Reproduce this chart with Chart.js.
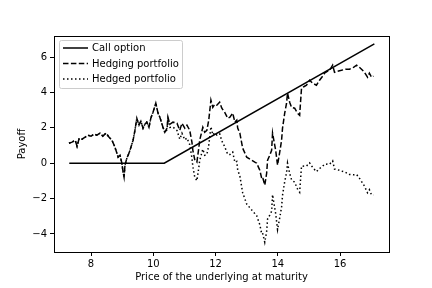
<!DOCTYPE html>
<html><head><meta charset="utf-8">
<script src="https://cdn.jsdelivr.net/npm/chart.js@4.4.0/dist/chart.umd.min.js"></script>
<style>html,body{margin:0;padding:0;background:#fff;}canvas{display:block;}</style>
</head><body>
<canvas id="c" width="432" height="288"></canvas>
<script>
const callX = [7.3, 10.35, 17.1];
const callY = [0, 0, 6.75];
const priceX = [7.29,7.39,7.49,7.55,7.62,7.71,7.81,7.90,8.00,8.10,8.19,8.29,8.38,8.48,8.58,8.67,8.74,8.80,8.87,8.93,8.99,9.03,9.06,9.09,9.15,9.22,9.28,9.35,9.41,9.47,9.54,9.60,9.67,9.73,9.79,9.86,9.92,9.99,10.05,10.08,10.15,10.21,10.31,10.37,10.44,10.47,10.53,10.63,10.76,10.85,10.92,11.01,11.08,11.17,11.24,11.27,11.33,11.40,11.46,11.49,11.59,11.65,11.72,11.78,11.85,11.91,11.97,12.04,12.13,12.20,12.29,12.39,12.46,12.55,12.62,12.68,12.71,12.78,12.87,13.00,13.16,13.26,13.32,13.42,13.48,13.51,13.58,13.64,13.67,13.74,13.80,13.83,13.87,13.93,13.99,14.06,14.12,14.15,14.22,14.28,14.31,14.38,14.44,14.54,14.63,14.70,14.76,14.86,14.92,15.02,15.12,15.24,15.34,15.44,15.50,15.60,15.66,15.76,15.82,15.92,16.04,16.17,16.30,16.43,16.53,16.62,16.72,16.78,16.88,16.94,17.01,17.07];
const hedgingY = [1.13,1.19,1.30,0.96,1.41,1.36,1.47,1.58,1.53,1.64,1.58,1.70,1.53,1.70,1.47,1.30,1.02,0.73,0.34,0.45,0,-0.51,-0.79,-0.11,0.28,0.57,0.90,1.30,1.86,2.54,2.15,2.37,1.98,2.20,2.32,2.03,2.54,2.88,3.22,3.39,2.83,2.60,2.03,1.75,1.98,2.60,2.20,2.32,2.26,1.86,2.26,1.98,2.15,1.86,1.19,0.73,0.20,0.06,0.85,1.30,2.03,1.75,1.86,2.43,3.56,3.16,3.33,3.28,3.45,3.11,2.88,2.54,2.60,2.83,2.32,2.43,1.98,1.70,0.85,0.34,0.17,0.06,0,-0.40,-0.85,-0.79,-1.24,-0.57,0.17,0.45,0.73,1.70,1.30,0.73,-0.11,0.62,1.30,1.98,2.83,3.39,3.96,3.45,3.16,3.11,2.83,2.71,4.24,4.35,4.41,4.69,4.52,4.41,4.69,4.92,5.09,5.20,5.25,5.54,5.14,5.20,5.25,5.31,5.31,5.42,5.54,5.42,5.25,5.14,4.86,5.09,4.86,4.92];
const hedgedY = [1.13,1.19,1.30,0.96,1.41,1.36,1.47,1.58,1.53,1.64,1.58,1.70,1.53,1.70,1.47,1.30,1.02,0.73,0.34,0.45,0,-0.51,-0.79,-0.11,0.28,0.57,0.90,1.30,1.86,2.54,2.15,2.37,1.98,2.20,2.32,2.03,2.54,2.88,3.22,3.39,2.83,2.60,2.03,1.73,1.89,2.48,2.02,2.04,1.85,1.36,1.69,1.32,1.42,1.04,0.30,-0.19,-0.78,-0.99,-0.26,0.16,0.79,0.45,0.49,1.00,2.06,1.60,1.71,1.59,1.67,1.26,0.94,0.50,0.49,0.63,0.05,0.10,-0.38,-0.73,-1.67,-2.31,-2.64,-2.85,-2.97,-3.47,-3.98,-3.95,-4.47,-3.86,-3.15,-2.94,-2.72,-1.78,-2.22,-2.85,-3.75,-3.09,-2.47,-1.82,-1.04,-0.54,0,-0.58,-0.93,-1.08,-1.45,-1.64,-0.17,-0.16,-0.16,0.02,-0.25,-0.48,-0.30,-0.17,-0.06,-0.05,-0.06,0.13,-0.33,-0.37,-0.44,-0.51,-0.64,-0.66,-0.64,-0.85,-1.12,-1.29,-1.67,-1.50,-1.80,-1.80];
const xTicks = [8, 10, 12, 14, 16];
const yTicks = [-4, -2, 0, 2, 4, 6];
const seriesNames = ['Call option', 'Hedging portfolio', 'Hedged portfolio'];

const toPts = (xs, ys) => xs.map((x, i) => ({x: x, y: ys[i]}));
const DASH = [5.5, 2.4];
const DOT = [1.5, 2.5];
const fmt = v => (v < 0 ? '\u2212' + Math.abs(v) : String(v));

const framePlugin = {
  id: 'frame',
  afterDraw(chart) {
    const {ctx, chartArea: a} = chart;
    ctx.save();
    ctx.strokeStyle = '#000';
    ctx.lineWidth = 1;
    ctx.setLineDash([]);
    ctx.strokeRect(Math.round(a.left) + 0.5, Math.round(a.top) + 0.5, Math.round(a.right - a.left), Math.round(a.bottom - a.top));
    // legend
    const bx = 59.5, by = 40.5, bw = 123, bh = 48;
    ctx.fillStyle = 'rgba(255,255,255,0.8)';
    ctx.strokeStyle = '#cccccc';
    ctx.beginPath();
    if (ctx.roundRect) ctx.roundRect(bx, by, bw, bh, 2); else ctx.rect(bx, by, bw, bh);
    ctx.fill(); ctx.stroke();
    const dashes = [[], DASH, DOT];
    const rows = [48, 63.5, 79];
    ctx.font = '10px "DejaVu Sans"';
    ctx.textBaseline = 'middle';
    ctx.textAlign = 'left';
    for (let i = 0; i < 3; i++) {
      ctx.strokeStyle = '#000';
      ctx.lineWidth = 1.5;
      ctx.lineCap = 'butt';
      ctx.setLineDash(dashes[i]);
      ctx.beginPath();
      ctx.moveTo(63, rows[i]); ctx.lineTo(88, rows[i]);
      ctx.stroke();
      ctx.setLineDash([]);
      ctx.fillStyle = '#000';
      ctx.fillText(seriesNames[i], 92, rows[i] + 0.5);
    }
    ctx.restore();
  }
};

new Chart(document.getElementById('c'), {
  type: 'line',
  data: {
    datasets: [
      {label: seriesNames[0], data: toPts(callX, callY), borderColor: '#000', borderWidth: 1.5, pointRadius: 0, tension: 0, fill: false},
      {label: seriesNames[1], data: toPts(priceX, hedgingY), borderColor: '#000', borderWidth: 1.5, borderDash: DASH, pointRadius: 0, tension: 0, fill: false},
      {label: seriesNames[2], data: toPts(priceX, hedgedY), borderColor: '#000', borderWidth: 1.5, borderDash: DOT, pointRadius: 0, tension: 0, fill: false}
    ]
  },
  options: {
    responsive: false,
    animation: false,
    devicePixelRatio: 1,
    layout: {padding: {left: 0, right: 43, top: 36, bottom: 0}},
    plugins: {legend: {display: false}, tooltip: {enabled: false}},
    scales: {
      x: {
        type: 'linear', min: 6.81, max: 17.57,
        afterBuildTicks: s => { s.ticks = xTicks.map(v => ({value: v})); },
        afterFit: s => { s.height = 36; },
        grid: {drawOnChartArea: false, drawTicks: true, tickLength: 4, color: '#000', tickWidth: 1},
        border: {display: true, color: '#000', width: 1},
        ticks: {color: '#000', font: {family: 'DejaVu Sans', size: 10}, padding: 2, maxRotation: 0, callback: v => fmt(v)},
        title: {display: true, text: 'Price of the underlying at maturity', color: '#000', font: {family: 'DejaVu Sans', size: 10}, padding: {top: 0, bottom: 5}}
      },
      y: {
        type: 'linear', min: -5.02, max: 7.19,
        afterBuildTicks: s => { s.ticks = yTicks.map(v => ({value: v})); },
        afterFit: s => { s.width = 54; },
        grid: {drawOnChartArea: false, drawTicks: true, tickLength: 4, color: '#000', tickWidth: 1},
        border: {display: true, color: '#000', width: 1},
        ticks: {color: '#000', font: {family: 'DejaVu Sans', size: 10}, padding: 3, callback: v => fmt(v)},
        title: {display: true, text: 'Payoff', color: '#000', font: {family: 'DejaVu Sans', size: 10}, padding: {top: 16, bottom: 0}}
      }
    }
  },
  plugins: [framePlugin]
});
</script>
</body></html>
